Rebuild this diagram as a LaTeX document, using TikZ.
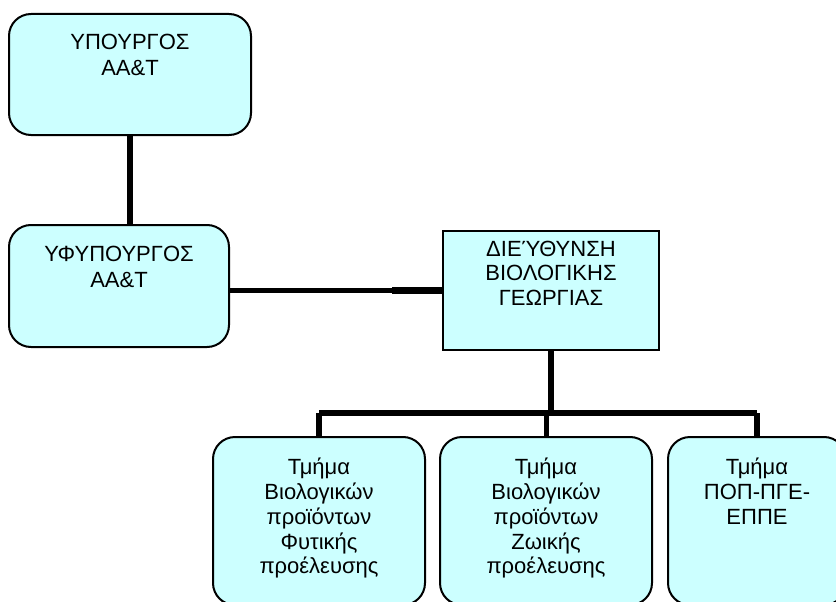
\documentclass[tikz,border=0pt]{standalone}
\usepackage{fontspec}
\setmainfont{Liberation Sans}
\definecolor{boxfill}{HTML}{CCFFFF}
\begin{document}
\begin{tikzpicture}[x=1pt,y=-1pt,
  box/.style={draw=black, line width=2pt, fill=boxfill, rounded corners=22pt, inner sep=0pt},
  sqbox/.style={draw=black, line width=2pt, fill=boxfill, inner sep=0pt},
  txt/.style={font=\fontsize{22}{24.8}\selectfont, align=center, inner sep=0pt, anchor=north},
  conn/.style={line width=6pt, line cap=butt}]
\useasboundingbox (0,0) rectangle (836,602);
\clip (0,0) rectangle (836,602);
% boxes
\node[box, minimum width=242pt, minimum height=121pt] (min) at (130,74.5) {};
\node[box, minimum width=220pt, minimum height=122pt] (yfyp) at (119,286) {};
\node[sqbox, minimum width=216pt, minimum height=119pt] (dir) at (551,290.5) {};
\node[box, minimum width=212pt, minimum height=168pt] (t1) at (319,521) {};
\node[box, minimum width=212pt, minimum height=168pt] (t2) at (546,521) {};
\node[box, minimum width=178pt, minimum height=168pt] (t3) at (757,521) {};
% texts
\node[txt, font=\fontsize{22}{26}\selectfont] (minT) at (130,34) {ΥΠΟΥΡΓΟΣ\\ΑΑ\&Τ};
\node[txt, font=\fontsize{22}{26}\selectfont] (yfypT) at (119,246) {ΥΦΥΠΟΥΡΓΟΣ\\ΑΑ\&Τ};
\node[txt] (dirT) at (551,240.5) {ΔΙΕΎΘΥΝΣΗ\\ΒΙΟΛΟΓΙΚΗΣ\\ΓΕΩΡΓΙΑΣ};
\node[txt] (t1T) at (319,458) {Τμήμα\\Βιολογικών\\προϊόντων\\Φυτικής\\προέλευσης};
\node[txt] (t2T) at (546,458) {Τμήμα\\Βιολογικών\\προϊόντων\\Ζωικής\\προέλευσης};
\node[txt] (t3T) at (757,458) {Τμήμα\\ΠΟΠ-ΠΓΕ-\\ΕΠΠΕ};
% connectors
\draw[conn] (min.south) -- (min.south |- yfyp.north);
\coordinate (j) at (392,290.5);
\draw[conn, line width=5pt] (dir.west -| yfyp.east) -- (j);
\draw[conn, line width=7pt] (j) -- (dir.west);
\coordinate (bar) at (551,413);
\draw[conn] (dir.south) -- (bar);
\draw[conn, line cap=square] (t1.north |- bar) -- (t3.north |- bar);
\draw[conn] (t1.north |- bar) -- (t1.north);
\draw[conn, line width=5pt] (t2.north |- bar) -- (t2.north);
\draw[conn] (t3.north |- bar) -- (t3.north);
\end{tikzpicture}
\end{document}
